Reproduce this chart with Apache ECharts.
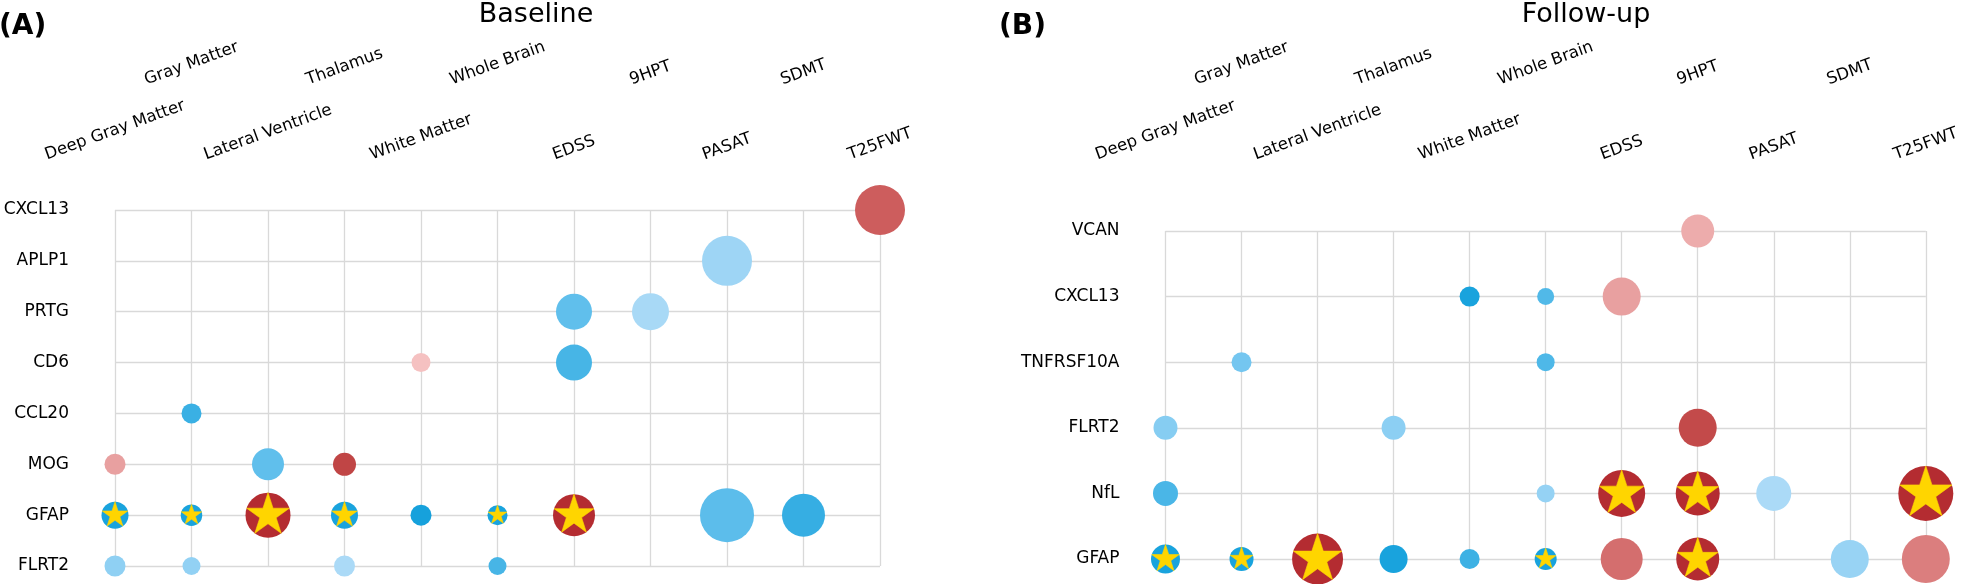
<!DOCTYPE html>
<html><head><meta charset="utf-8">
<script src="https://cdn.jsdelivr.net/npm/echarts@6/dist/echarts.min.js"></script>
<style>html,body{margin:0;padding:0;background:#fff}#c{width:1963px;height:584px}</style>
</head><body><div id="c"></div>
<script>
const columns = ['Deep Gray Matter','Gray Matter','Lateral Ventricle','Thalamus','White Matter','Whole Brain','EDSS','9HPT','PASAT','SDMT','T25FWT'];
const baselineRows = ['CXCL13','APLP1','PRTG','CD6','CCL20','MOG','GFAP','FLRT2'];
const followupRows = ['VCAN','CXCL13','TNFRSF10A','FLRT2','NfL','GFAP'];
const panelTitles = ['Baseline','Follow-up'];
const panelLetters = ['(A)','(B)'];

// [column, protein, signed effect (colour), strength (bubble size), significant (star)]
const baselinePoints = [
  ['T25FWT','CXCL13', 0.66, 5.0, 0],
  ['PASAT','APLP1', -0.27, 5.0, 0],
  ['EDSS','PRTG', -0.50, 3.6, 0],
  ['9HPT','PRTG', -0.24, 3.7, 0],
  ['White Matter','CD6', 0.21, 1.9, 0],
  ['EDSS','CD6', -0.62, 3.6, 0],
  ['Gray Matter','CCL20', -0.70, 2.0, 0],
  ['Deep Gray Matter','MOG', 0.40, 2.1, 0],
  ['Lateral Ventricle','MOG', -0.50, 3.2, 0],
  ['Thalamus','MOG', 0.80, 2.3, 0],
  ['Deep Gray Matter','GFAP', -0.90, 2.7, 1],
  ['Gray Matter','GFAP', -0.90, 2.15, 1],
  ['Lateral Ventricle','GFAP', 0.95, 4.5, 1],
  ['Thalamus','GFAP', -0.90, 2.7, 1],
  ['White Matter','GFAP', -0.92, 2.1, 0],
  ['Whole Brain','GFAP', -0.90, 2.0, 1],
  ['EDSS','GFAP', 0.95, 4.2, 1],
  ['PASAT','GFAP', -0.52, 5.4, 0],
  ['SDMT','GFAP', -0.72, 4.3, 0],
  ['Deep Gray Matter','FLRT2', -0.32, 2.1, 0],
  ['Gray Matter','FLRT2', -0.31, 1.8, 0],
  ['Thalamus','FLRT2', -0.23, 2.1, 0],
  ['Whole Brain','FLRT2', -0.62, 1.8, 0]
];
const followupPoints = [
  ['9HPT','VCAN', 0.33, 3.3, 0],
  ['White Matter','CXCL13', -0.90, 2.0, 0],
  ['Whole Brain','CXCL13', -0.57, 1.7, 0],
  ['EDSS','CXCL13', 0.40, 3.8, 0],
  ['Gray Matter','TNFRSF10A', -0.41, 2.0, 0],
  ['Whole Brain','TNFRSF10A', -0.58, 1.8, 0],
  ['Deep Gray Matter','FLRT2', -0.35, 2.4, 0],
  ['Thalamus','FLRT2', -0.33, 2.4, 0],
  ['9HPT','FLRT2', 0.77, 3.8, 0],
  ['Deep Gray Matter','NfL', -0.60, 2.5, 0],
  ['Whole Brain','NfL', -0.30, 1.8, 0],
  ['EDSS','NfL', 0.95, 4.7, 1],
  ['9HPT','NfL', 0.95, 4.4, 1],
  ['PASAT','NfL', -0.23, 3.5, 0],
  ['T25FWT','NfL', 0.95, 5.5, 1],
  ['Deep Gray Matter','GFAP', -0.90, 2.9, 1],
  ['Gray Matter','GFAP', -0.90, 2.4, 1],
  ['Lateral Ventricle','GFAP', 0.95, 5.1, 1],
  ['Thalamus','GFAP', -0.90, 2.8, 0],
  ['White Matter','GFAP', -0.68, 2.0, 0],
  ['Whole Brain','GFAP', -0.90, 2.2, 1],
  ['EDSS','GFAP', 0.58, 4.2, 0],
  ['9HPT','GFAP', 0.95, 4.3, 1],
  ['SDMT','GFAP', -0.29, 3.8, 0],
  ['T25FWT','GFAP', 0.52, 4.8, 0]
];

const STAR = 'path://M0,-100 L22.45,-30.9 L95.11,-30.9 L36.33,11.8 L58.78,80.9 L0,38.2 L-58.78,80.9 L-36.33,11.8 L-95.11,-30.9 L-22.45,-30.9 Z M-100,-100 M100,100';
const GRID_COLOR = '#d9d9d9';
const FONT = 'DejaVu Sans';
const LABEL_FS = 16.5;
const ROT = 20;
const LOWER_BOTTOM = 161;   // page y of the lower label row's rotated-box bottom
const UPPER_BOTTOM = 86;    // page y of the upper label row's rotated-box bottom
const grids = [
  {left: 115, top: 210, width: 765, height: 356},
  {left: 1165.5, top: 231, width: 763, height: 328}
];

// labels are laid out like "rotate, then align the rotated box": centred on the
// column, with the box bottom on a common line. Emulate with per-label padding.
const mctx = document.createElement('canvas').getContext('2d');
mctx.font = LABEL_FS + 'px "' + FONT + '"';
const th = ROT * Math.PI / 180;
function padFor(text, bottomY, anchorY) {
  const w = mctx.measureText(text).width;
  const cy = bottomY - (w / 2) * Math.sin(th) - 0.35 * LABEL_FS * Math.cos(th);
  const D = cy - anchorY;
  return D >= 0 ? [2 * D * Math.cos(th), 2 * D * Math.sin(th), 0, 0]
                : [0, 0, -2 * D * Math.cos(th), -2 * D * Math.sin(th)];
}

function xAxesFor(gridIndex) {
  const top = grids[gridIndex].top;
  const common = {
    type: 'category', gridIndex, data: columns, position: 'top', boundaryGap: false,
    axisLine: {show: false}, axisTick: {show: false}
  };
  function mk(parity, bottomY, anchorY) {
    const rich = {};
    columns.forEach((c, i) => {
      rich['l' + i] = {fontSize: LABEL_FS, fontFamily: FONT, color: '#000', padding: padFor(c, bottomY, anchorY)};
    });
    return {
      interval: 0, rotate: -ROT, align: 'center', verticalAlign: 'middle',
      fontSize: LABEL_FS, color: '#000', fontFamily: FONT,
      margin: top - anchorY,
      formatter: (v, i) => (i % 2 === parity ? '{l' + i + '|' + v + '}' : ''),
      rich
    };
  }
  return [
    Object.assign({}, common, {
      splitLine: {show: true, lineStyle: {color: GRID_COLOR, width: 1.3}},
      axisLabel: mk(0, LOWER_BOTTOM, 138)
    }),
    Object.assign({}, common, {
      splitLine: {show: false},
      axisLabel: mk(1, UPPER_BOTTOM, 67)
    })
  ];
}
function yAxisFor(gridIndex, rows) {
  return {
    type: 'category', gridIndex, data: rows, inverse: true, boundaryGap: false,
    axisLine: {show: false}, axisTick: {show: false},
    splitLine: {show: true, lineStyle: {color: GRID_COLOR, width: 1.3}},
    axisLabel: {fontSize: 17, color: '#000', margin: 46, fontFamily: FONT}
  };
}
const toData = pts => pts.map(p => [p[0], p[1], p[2], p[3]]);
const toStars = pts => pts.filter(p => p[4]).map(p => [p[0], p[1], p[2], p[3]]);
const starStyle = {color: '#ffd500', borderColor: '#ffd500', borderWidth: 0.6, opacity: 1};

const chart = echarts.init(document.getElementById('c'), null, {renderer: 'canvas'});
chart.setOption({
  animation: false,
  backgroundColor: '#fff',
  textStyle: {fontFamily: FONT},
  title: [
    {text: panelTitles[0], left: 536, top: 1, textAlign: 'center', padding: 0, textStyle: {fontSize: 27, fontWeight: 'normal', color: '#000', fontFamily: FONT}},
    {text: panelTitles[1], left: 1586, top: 1, textAlign: 'center', padding: 0, textStyle: {fontSize: 27, fontWeight: 'normal', color: '#000', fontFamily: FONT}},
    {text: panelLetters[0], left: -1, top: 13, padding: 0, textStyle: {fontSize: 28, fontWeight: 'bold', color: '#000', fontFamily: FONT}},
    {text: panelLetters[1], left: 999, top: 13, padding: 0, textStyle: {fontSize: 28, fontWeight: 'bold', color: '#000', fontFamily: FONT}}
  ],
  grid: grids,
  xAxis: xAxesFor(0).concat(xAxesFor(1)),
  yAxis: [yAxisFor(0, baselineRows), yAxisFor(1, followupRows)],
  visualMap: [
    {type: 'continuous', show: false, dimension: 2, min: -1, max: 1, seriesIndex: [0, 2],
     inRange: {color: ['#0a9cd9','#29a9e0','#4ab6e7','#76c7f0','#b4ddf8','#ffffff','#f6c3c3','#e8a0a0','#d26868','#c04545','#b0242a']}},
    {type: 'continuous', show: false, dimension: 3, min: 0, max: 6, seriesIndex: [0, 1, 2, 3],
     inRange: {symbolSize: [0, 60]}}
  ],
  series: [
    {type: 'scatter', xAxisIndex: 0, yAxisIndex: 0, symbol: 'circle', data: toData(baselinePoints), z: 3, itemStyle: {opacity: 1}},
    {type: 'scatter', xAxisIndex: 0, yAxisIndex: 0, symbol: STAR, data: toStars(baselinePoints), z: 4, itemStyle: starStyle},
    {type: 'scatter', xAxisIndex: 2, yAxisIndex: 1, symbol: 'circle', data: toData(followupPoints), z: 3, itemStyle: {opacity: 1}},
    {type: 'scatter', xAxisIndex: 2, yAxisIndex: 1, symbol: STAR, data: toStars(followupPoints), z: 4, itemStyle: starStyle}
  ]
});
</script></body></html>
